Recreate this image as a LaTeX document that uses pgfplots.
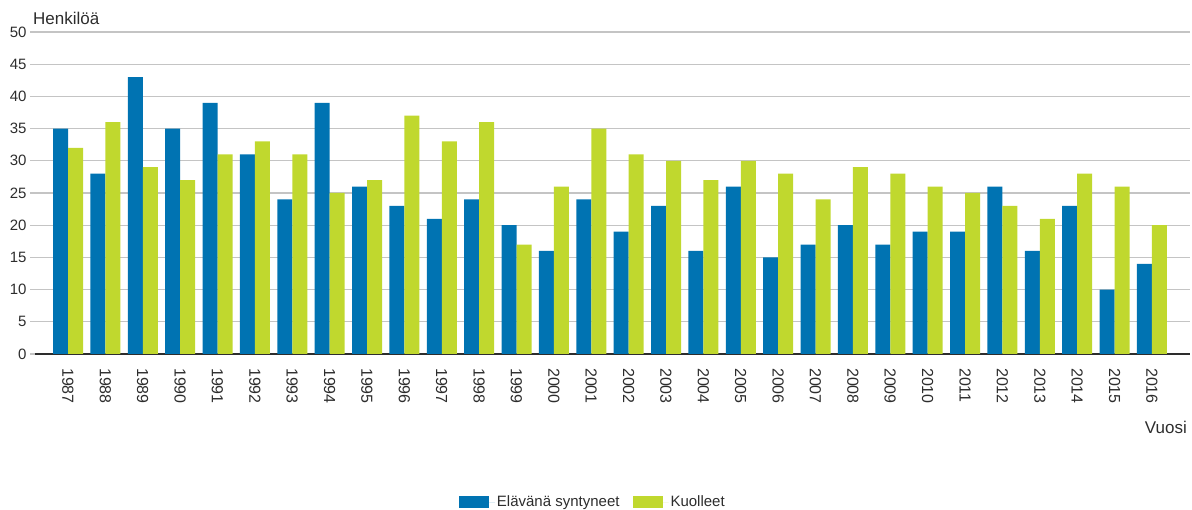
\documentclass[border=0pt]{standalone}
\usepackage{fontspec}
\setmainfont{Liberation Sans}
\usepackage{pgfplots}
\usepackage{pgfplotstable}
\pgfplotsset{compat=1.18}
\definecolor{sininen}{RGB}{0,115,178}
\definecolor{vihrea}{RGB}{192,216,46}
\definecolor{teksti}{RGB}{45,45,45}
\definecolor{ruudukko}{RGB}{196,196,196}

% n = paikka x-akselilla, vuosi, elävänä syntyneet, kuolleet
\pgfplotstableread{
n vuosi synt kuol
0 1987 35 32
1 1988 28 36
2 1989 43 29
3 1990 35 27
4 1991 39 31
5 1992 31 33
6 1993 24 31
7 1994 39 25
8 1995 26 27
9 1996 23 37
10 1997 21 33
11 1998 24 36
12 1999 20 17
13 2000 16 26
14 2001 24 35
15 2002 19 31
16 2003 23 30
17 2004 16 27
18 2005 26 30
19 2006 15 28
20 2007 17 24
21 2008 20 29
22 2009 17 28
23 2010 19 26
24 2011 19 25
25 2012 26 23
26 2013 16 21
27 2014 23 28
28 2015 10 26
29 2016 14 20
}\data

\begin{document}
\begin{tikzpicture}
\useasboundingbox (0pt,0pt) rectangle (1192pt,510pt);
\begin{axis}[
  at={(35pt,156pt)}, anchor=south west,
  width=1155pt, height=322pt, scale only axis,
  ybar=0pt, bar width=15pt,
  xmin=-0.883, xmax=30.02,
  ymin=0, ymax=50,
  ytick={0,5,...,50},
  xtick={0,...,29},
  xticklabels={1987,1988,1989,1990,1991,1992,1993,1994,1995,1996,1997,1998,1999,2000,2001,2002,2003,2004,2005,2006,2007,2008,2009,2010,2011,2012,2013,2014,2015,2016},
  axis x line*=bottom, axis y line*=left,
  x axis line style={teksti, line width=1.5pt},
  y axis line style={draw=none},
  ymajorgrids, major grid style={ruudukko, line width=1.2pt},
  tick align=outside, major tick length=5pt,
  ytick style={draw=ruudukko, line width=1.2pt},
  xtick style={draw=none},
  /pgf/number format/assume math mode=true,
  yticklabel style={font=\fontsize{15}{18}\selectfont, text=teksti},
  xticklabel style={font=\fontsize{16}{19}\selectfont, text=teksti,
    rotate=-90, anchor=west, inner xsep=9pt},
  legend style={at={(0.483,-0.46)}, anchor=center, legend columns=2, draw=none,
    font=\fontsize{15}{18}\selectfont, text=teksti,
    /tikz/every even column/.append style={column sep=11pt}},
  legend image code/.code={\fill[#1] (0pt,-6pt) rectangle (30pt,6pt);
    \path (30pt,0pt) -- (36pt,0pt);},
  clip=false,
]
\addplot[fill=sininen, draw=none] table[x=n, y=synt] {\data};
\addplot[fill=vihrea, draw=none] table[x=n, y=kuol] {\data};
\legend{Elävänä syntyneet, Kuolleet}
\node[anchor=base west, inner sep=0pt, font=\fontsize{17}{20}\selectfont, text=teksti]
  at (rel axis cs:0,1) [xshift=-2pt, yshift=7pt] {Henkilöä};
\node[anchor=base east, inner sep=0pt, font=\fontsize{17}{20}\selectfont, text=teksti]
  at (rel axis cs:1,0) [xshift=-3pt, yshift=-80pt] {Vuosi};
\end{axis}
\end{tikzpicture}
\end{document}
